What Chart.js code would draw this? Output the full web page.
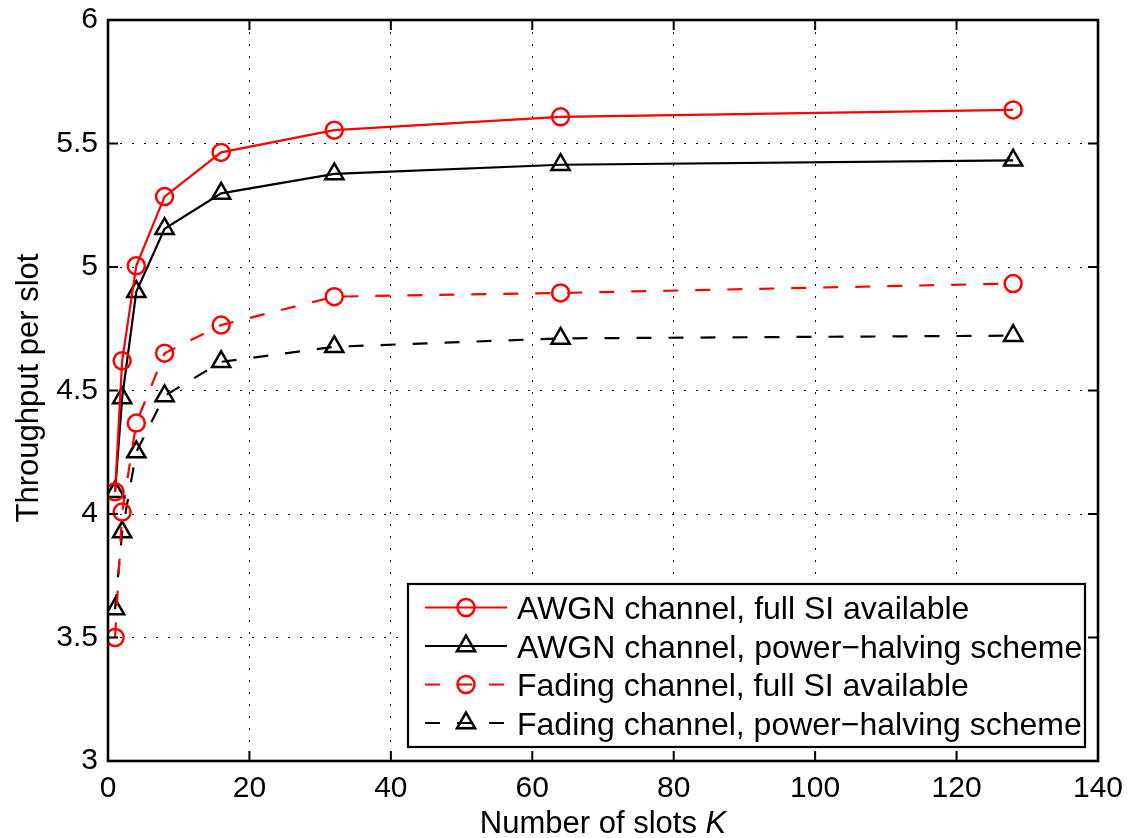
<!DOCTYPE html>
<html>
<head>
<meta charset="utf-8">
<script src="https://cdn.jsdelivr.net/npm/chart.js@4/dist/chart.umd.min.js"></script>
<style>
  html, body { margin: 0; padding: 0; background: #fff; }
  #wrap { width: 1128px; height: 838px; position: relative; }
</style>
</head>
<body>
<div id="wrap"><canvas id="lineChart"></canvas></div>
<script>
// number of slots K
var slotsK = [1, 2, 4, 8, 16, 32, 64, 128];

// throughput per slot for each scheme
var awgnFullSI       = [4.09, 4.62, 5.005, 5.285, 5.464, 5.554, 5.608, 5.636];
var awgnPowerHalving = [4.09, 4.47, 4.90, 5.155, 5.298, 5.377, 5.414, 5.432];
var fadingFullSI     = [3.50, 4.008, 4.368, 4.651, 4.765, 4.880, 4.895, 4.933];
var fadingPowerHalving = [3.615, 3.927, 4.251, 4.478, 4.616, 4.677, 4.711, 4.722];

var seriesLabels = [
	"AWGN channel, full SI available",
	"AWGN channel, power\u2212halving scheme",
	"Fading channel, full SI available",
	"Fading channel, power\u2212halving scheme"
];

var xTicks = [0, 20, 40, 60, 80, 100, 120, 140];
var yTicks = [3, 3.5, 4, 4.5, 5, 5.5, 6];

var FONT = '"Liberation Sans", Arial, Helvetica, sans-serif';
var DASH = [15, 17];

function points(ys) {
	return slotsK.map((k, i) => ({x: k, y: ys[i]}));
}

function makeSet(label, ys, color, marker, dashed) {
	return {
		label: label,
		data: points(ys),
		borderColor: color,
		borderWidth: 2.2,
		borderDash: dashed ? DASH : [],
		pointStyle: marker,
		pointRadius: marker === 'triangle' ? 10.5 : 8.5,
		pointBorderWidth: 2.5,
		pointBorderColor: color,
		pointBackgroundColor: 'rgba(0,0,0,0)',
		fill: false,
		tension: 0
	};
}

function drawMarker(ctx, style, x, y, r) {
	ctx.beginPath();
	if (style === 'triangle') {
		ctx.moveTo(x, y - r);
		ctx.lineTo(x + r * Math.sin(Math.PI * 2 / 3), y + r / 2);
		ctx.lineTo(x - r * Math.sin(Math.PI * 2 / 3), y + r / 2);
		ctx.closePath();
	} else {
		ctx.arc(x, y, r, 0, Math.PI * 2);
	}
	ctx.stroke();
}

// frame, inward ticks, legend box and axis titles (matlab look)
var matlabFrame = {
	id: 'matlabFrame',
	afterDraw(chart) {
		var ctx = chart.ctx, a = chart.chartArea;
		var sx = chart.scales.x, sy = chart.scales.y;
		ctx.save();
		ctx.setLineDash([]);
		ctx.strokeStyle = '#000';
		ctx.lineWidth = 2;
		ctx.beginPath();
		xTicks.forEach(v => {
			var px = sx.getPixelForValue(v);
			ctx.moveTo(px, a.bottom); ctx.lineTo(px, a.bottom - 10);
			ctx.moveTo(px, a.top); ctx.lineTo(px, a.top + 10);
		});
		yTicks.forEach(v => {
			var py = sy.getPixelForValue(v);
			ctx.moveTo(a.left, py); ctx.lineTo(a.left + 10, py);
			ctx.moveTo(a.right, py); ctx.lineTo(a.right - 10, py);
		});
		ctx.stroke();
		ctx.lineWidth = 2.6;
		ctx.strokeRect(a.left, a.top, a.right - a.left, a.bottom - a.top);

		// legend
		var L = {left: 408, top: 584, right: 1085, bottom: 747};
		ctx.fillStyle = '#fff';
		ctx.fillRect(L.left, L.top, L.right - L.left, L.bottom - L.top);
		ctx.lineWidth = 2.2;
		ctx.strokeRect(L.left, L.top, L.right - L.left, L.bottom - L.top);
		var rowY = [607.5, 646, 684.5, 723];
		ctx.font = '32px ' + FONT;
		ctx.textAlign = 'left';
		ctx.textBaseline = 'alphabetic';
		chart.data.datasets.forEach((ds, i) => {
			var y = rowY[i];
			ctx.strokeStyle = ds.borderColor;
			ctx.lineWidth = ds.borderWidth;
			ctx.setLineDash(ds.borderDash);
			ctx.beginPath();
			ctx.moveTo(425, y); ctx.lineTo(507, y);
			ctx.stroke();
			ctx.setLineDash([]);
			ctx.lineWidth = ds.pointBorderWidth;
			drawMarker(ctx, ds.pointStyle, 466, y, ds.pointRadius);
			ctx.fillStyle = '#000';
			ctx.fillText(ds.label, 517, y + 11.5);
		});

		// axis titles
		ctx.fillStyle = '#000';
		var t1 = 'Number of slots ';
		ctx.font = '31px ' + FONT;
		var w1 = ctx.measureText(t1).width;
		ctx.font = 'italic 31px ' + FONT;
		var w2 = ctx.measureText('K').width;
		var x0 = 603 - (w1 + w2) / 2;
		ctx.font = '31px ' + FONT;
		ctx.fillText(t1, x0, 833);
		ctx.font = 'italic 31px ' + FONT;
		ctx.fillText('K', x0 + w1, 833);

		ctx.translate(38, 388);
		ctx.rotate(-Math.PI / 2);
		ctx.font = '31px ' + FONT;
		ctx.textAlign = 'center';
		ctx.fillText('Throughput per slot', 0, 0);
		ctx.restore();
	}
};

function throughputChart() {
	var ctxL = document.getElementById("lineChart").getContext('2d');
	var myLineChart = new Chart(ctxL, {
		type: 'line',
		data: {
			datasets: [
				makeSet(seriesLabels[0], awgnFullSI, '#ff0000', 'circle', false),
				makeSet(seriesLabels[1], awgnPowerHalving, '#000000', 'triangle', false),
				makeSet(seriesLabels[2], fadingFullSI, '#ff0000', 'circle', true),
				makeSet(seriesLabels[3], fadingPowerHalving, '#000000', 'triangle', true)
			]
		},
		options: {
			responsive: true,
			maintainAspectRatio: false,
			animation: false,
			layout: {padding: {top: 20, right: 30, left: 0, bottom: 0}},
			plugins: {legend: {display: false}, tooltip: {enabled: false}},
			scales: {
				x: {
					type: 'linear', min: 0, max: 140,
					afterFit: s => { s.height = 77; s.paddingLeft = 0; s.paddingRight = 0; },
					afterBuildTicks: s => { s.ticks = xTicks.map(v => ({value: v})); },
					ticks: {font: {size: 30, family: FONT}, color: '#000', padding: 10, maxRotation: 0,
						callback: v => String(v)},
					grid: {color: '#000', lineWidth: 1, drawTicks: false},
					border: {display: false, dash: [2, 10]}
				},
				y: {
					type: 'linear', min: 3, max: 6,
					afterFit: s => { s.width = 108; s.paddingTop = 0; s.paddingBottom = 0; },
					afterBuildTicks: s => { s.ticks = yTicks.map(v => ({value: v})); },
					ticks: {font: {size: 30, family: FONT}, color: '#000', padding: 10,
						callback: v => String(v)},
					grid: {color: '#000', lineWidth: 1, drawTicks: false},
					border: {display: false, dash: [2, 10]}
				}
			}
		},
		plugins: [matlabFrame]
	});
}

throughputChart();
</script>
</body>
</html>
